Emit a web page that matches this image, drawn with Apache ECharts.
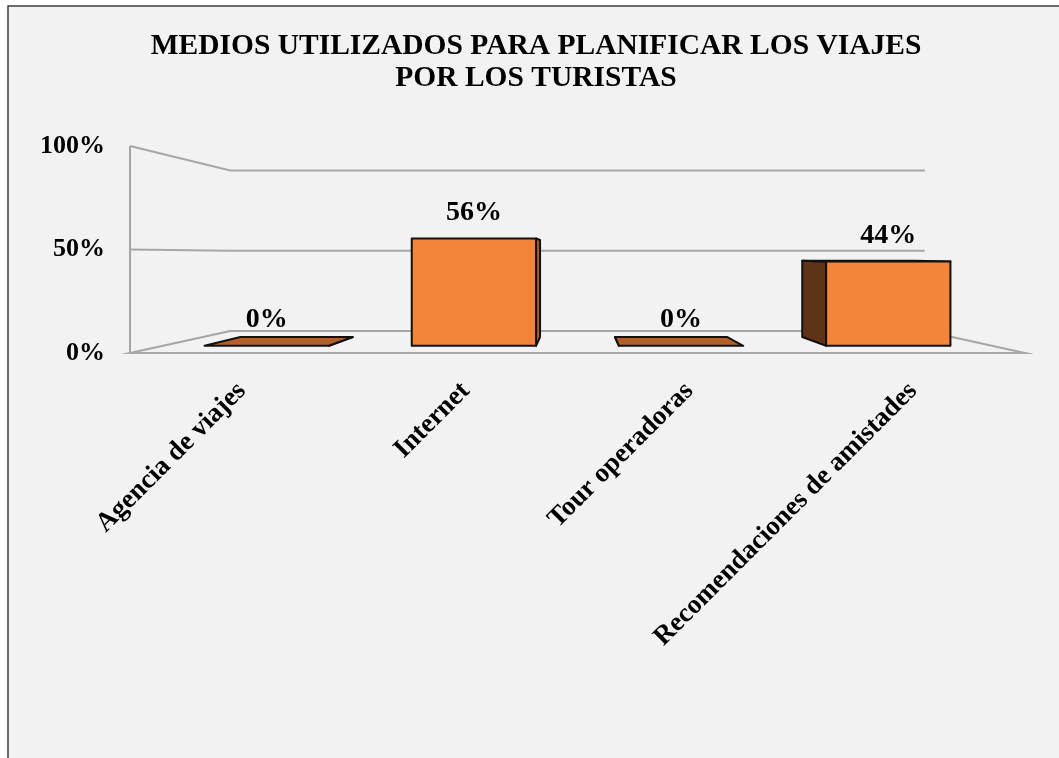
<!DOCTYPE html>
<html>
<head>
<meta charset="utf-8">
<script src="https://cdn.jsdelivr.net/npm/echarts@6/dist/echarts.min.js"></script>
<style>
  html, body { margin: 0; padding: 0; background: #fff; }
  #chart { width: 1059px; height: 758px; }
</style>
</head>
<body>
<div id="chart"></div>
<script>
const titleText = "MEDIOS UTILIZADOS PARA PLANIFICAR LOS VIAJES\nPOR LOS TURISTAS";
const categories = ["Agencia de viajes", "Internet", "Tour operadoras", "Recomendaciones de amistades"];
const percentages = [0, 56, 0, 44];
const yTicks = [0, 50, 100];

const FONT = '"Times New Roman", "Liberation Serif", serif';
// perspective of the excel 3d view
const EYE = 47.3;         // eye level, in axis units
const DEPTH_BACK = 0.776; // back wall scale
const BAR_NEAR = 0.926;
const BAR_FAR = 0.837;
const GRID_COLOR = "#A6A6A6";

function makeProj(params, api) {
  const cs = params.coordSys;
  const vx = cs.x + cs.width / 2;
  const vy = api.coord([0, EYE])[1];
  const fn = (x, y, s) => [vx + (x - vx) * s, vy + (y - vy) * s];
  fn.vx = vx;
  fn.vy = vy;
  return fn;
}

function renderWalls(params, api) {
  const cs = params.coordSys;
  const P = makeProj(params, api);
  const L = cs.x, R = cs.x + cs.width;
  const yMin = api.coord([0, yTicks[0]])[1];
  const yMax = api.coord([0, yTicks[yTicks.length - 1]])[1];
  const style = { stroke: GRID_COLOR, lineWidth: 2, fill: null };
  const children = [
    { type: "polyline", shape: { points: [[L, yMax], [L, yMin]] }, style: style },
    {
      type: "polygon",
      shape: { points: [P(L, yMin, 1), P(L, yMin, DEPTH_BACK), P(R, yMin, DEPTH_BACK), P(R, yMin, 1)] },
      style: style,
    },
  ];
  yTicks.slice(1).forEach((t) => {
    const y = api.coord([0, t])[1];
    children.push({
      type: "polyline",
      shape: { points: [P(L, y, 1), P(L, y, DEPTH_BACK), P(R, y, DEPTH_BACK)] },
      style: style,
    });
  });
  return { type: "group", children: children };
}

function renderBar(params, api) {
  const i = api.value(0);
  const v = api.value(1);
  const P = makeProj(params, api);
  const base = api.coord([i, 0]);
  const top = api.coord([i, v]);
  const hw = api.size([1, 0])[0] * 0.3;
  const xl = base[0] - hw, xr = base[0] + hw;
  const nb = [P(xl, base[1], BAR_NEAR), P(xr, base[1], BAR_NEAR)];
  const nt = [P(xl, top[1], BAR_NEAR), P(xr, top[1], BAR_NEAR)];
  const fb = [P(xl, base[1], BAR_FAR), P(xr, base[1], BAR_FAR)];
  const ft = [P(xl, top[1], BAR_FAR), P(xr, top[1], BAR_FAR)];
  const edge = { stroke: "#111", lineWidth: 2, lineJoin: "round" };
  const children = [];

  // side face toward the center of view
  if (base[0] < P.vx) {
    children.push({
      type: "polygon",
      shape: { points: [nb[1], fb[1], ft[1], nt[1]] },
      style: Object.assign({ fill: "#B55B20" }, edge),
    });
  } else {
    children.push({
      type: "polygon",
      shape: { points: [nb[0], fb[0], ft[0], nt[0]] },
      style: Object.assign({ fill: "#5E3318" }, edge),
    });
  }
  if (nt[0][1] > P.vy) {
    children.push({
      type: "polygon",
      shape: { points: [nt[0], nt[1], ft[1], ft[0]] },
      style: Object.assign({ fill: "#B95F26" }, edge),
    });
  }
  if (v > 0) {
    children.push({
      type: "polygon",
      shape: { points: [nb[0], nb[1], nt[1], nt[0]] },
      style: Object.assign({ fill: "#F2853A" }, edge),
    });
  }
  children.push({
    type: "text",
    style: {
      text: v + "%",
      x: (nt[0][0] + nt[1][0]) / 2,
      y: nt[0][1] - 26,
      align: "center",
      verticalAlign: "middle",
      fontSize: 28,
      fontWeight: "bold",
      fontFamily: FONT,
      fill: "#000",
    },
  });
  return { type: "group", children: children };
}

const chart = echarts.init(document.getElementById("chart"));

chart.setOption({
  backgroundColor: "#fff",
  animation: false,
  graphic: [
    {
      type: "rect",
      z: -10,
      silent: true,
      shape: { x: 8, y: 6, width: 1080, height: 780 },
      style: { fill: "#F2F2F2", stroke: "#3c3c3c", lineWidth: 1.5 },
    },
  ],
  title: {
    text: titleText,
    left: 536,
    top: 30,
    textAlign: "center",
    padding: 0,
    textStyle: {
      fontFamily: FONT,
      fontWeight: "bold",
      fontSize: 29.5,
      lineHeight: 32,
      color: "#000",
    },
  },
  grid: {
    left: 130,
    right: 34,
    top: 146,
    bottom: 405,
    containLabel: false,
  },
  xAxis: {
    type: "category",
    data: categories,
    axisLine: { show: false },
    axisTick: { show: false },
    splitLine: { show: false },
    axisLabel: {
      interval: 0,
      rotate: 45,
      margin: 34,
      color: "#000",
      fontFamily: FONT,
      fontWeight: "bold",
      fontSize: 27,
    },
  },
  yAxis: {
    type: "value",
    min: yTicks[0],
    max: yTicks[yTicks.length - 1],
    interval: yTicks[1] - yTicks[0],
    axisLine: { show: false },
    axisTick: { show: false },
    splitLine: { show: false },
    axisLabel: {
      formatter: "{value}%",
      margin: 25,
      padding: [6, 0, 0, 0],
      color: "#000",
      fontFamily: FONT,
      fontWeight: "bold",
      fontSize: 26,
    },
  },
  series: [
    {
      type: "custom",
      silent: true,
      z: 1,
      renderItem: renderWalls,
      data: [[0, 0]],
      encode: { x: 0, y: 1 },
    },
    {
      type: "custom",
      z: 2,
      renderItem: renderBar,
      data: categories.map((c, i) => [i, percentages[i]]),
      encode: { x: 0, y: 1 },
    },
  ],
});
</script>
</body>
</html>
